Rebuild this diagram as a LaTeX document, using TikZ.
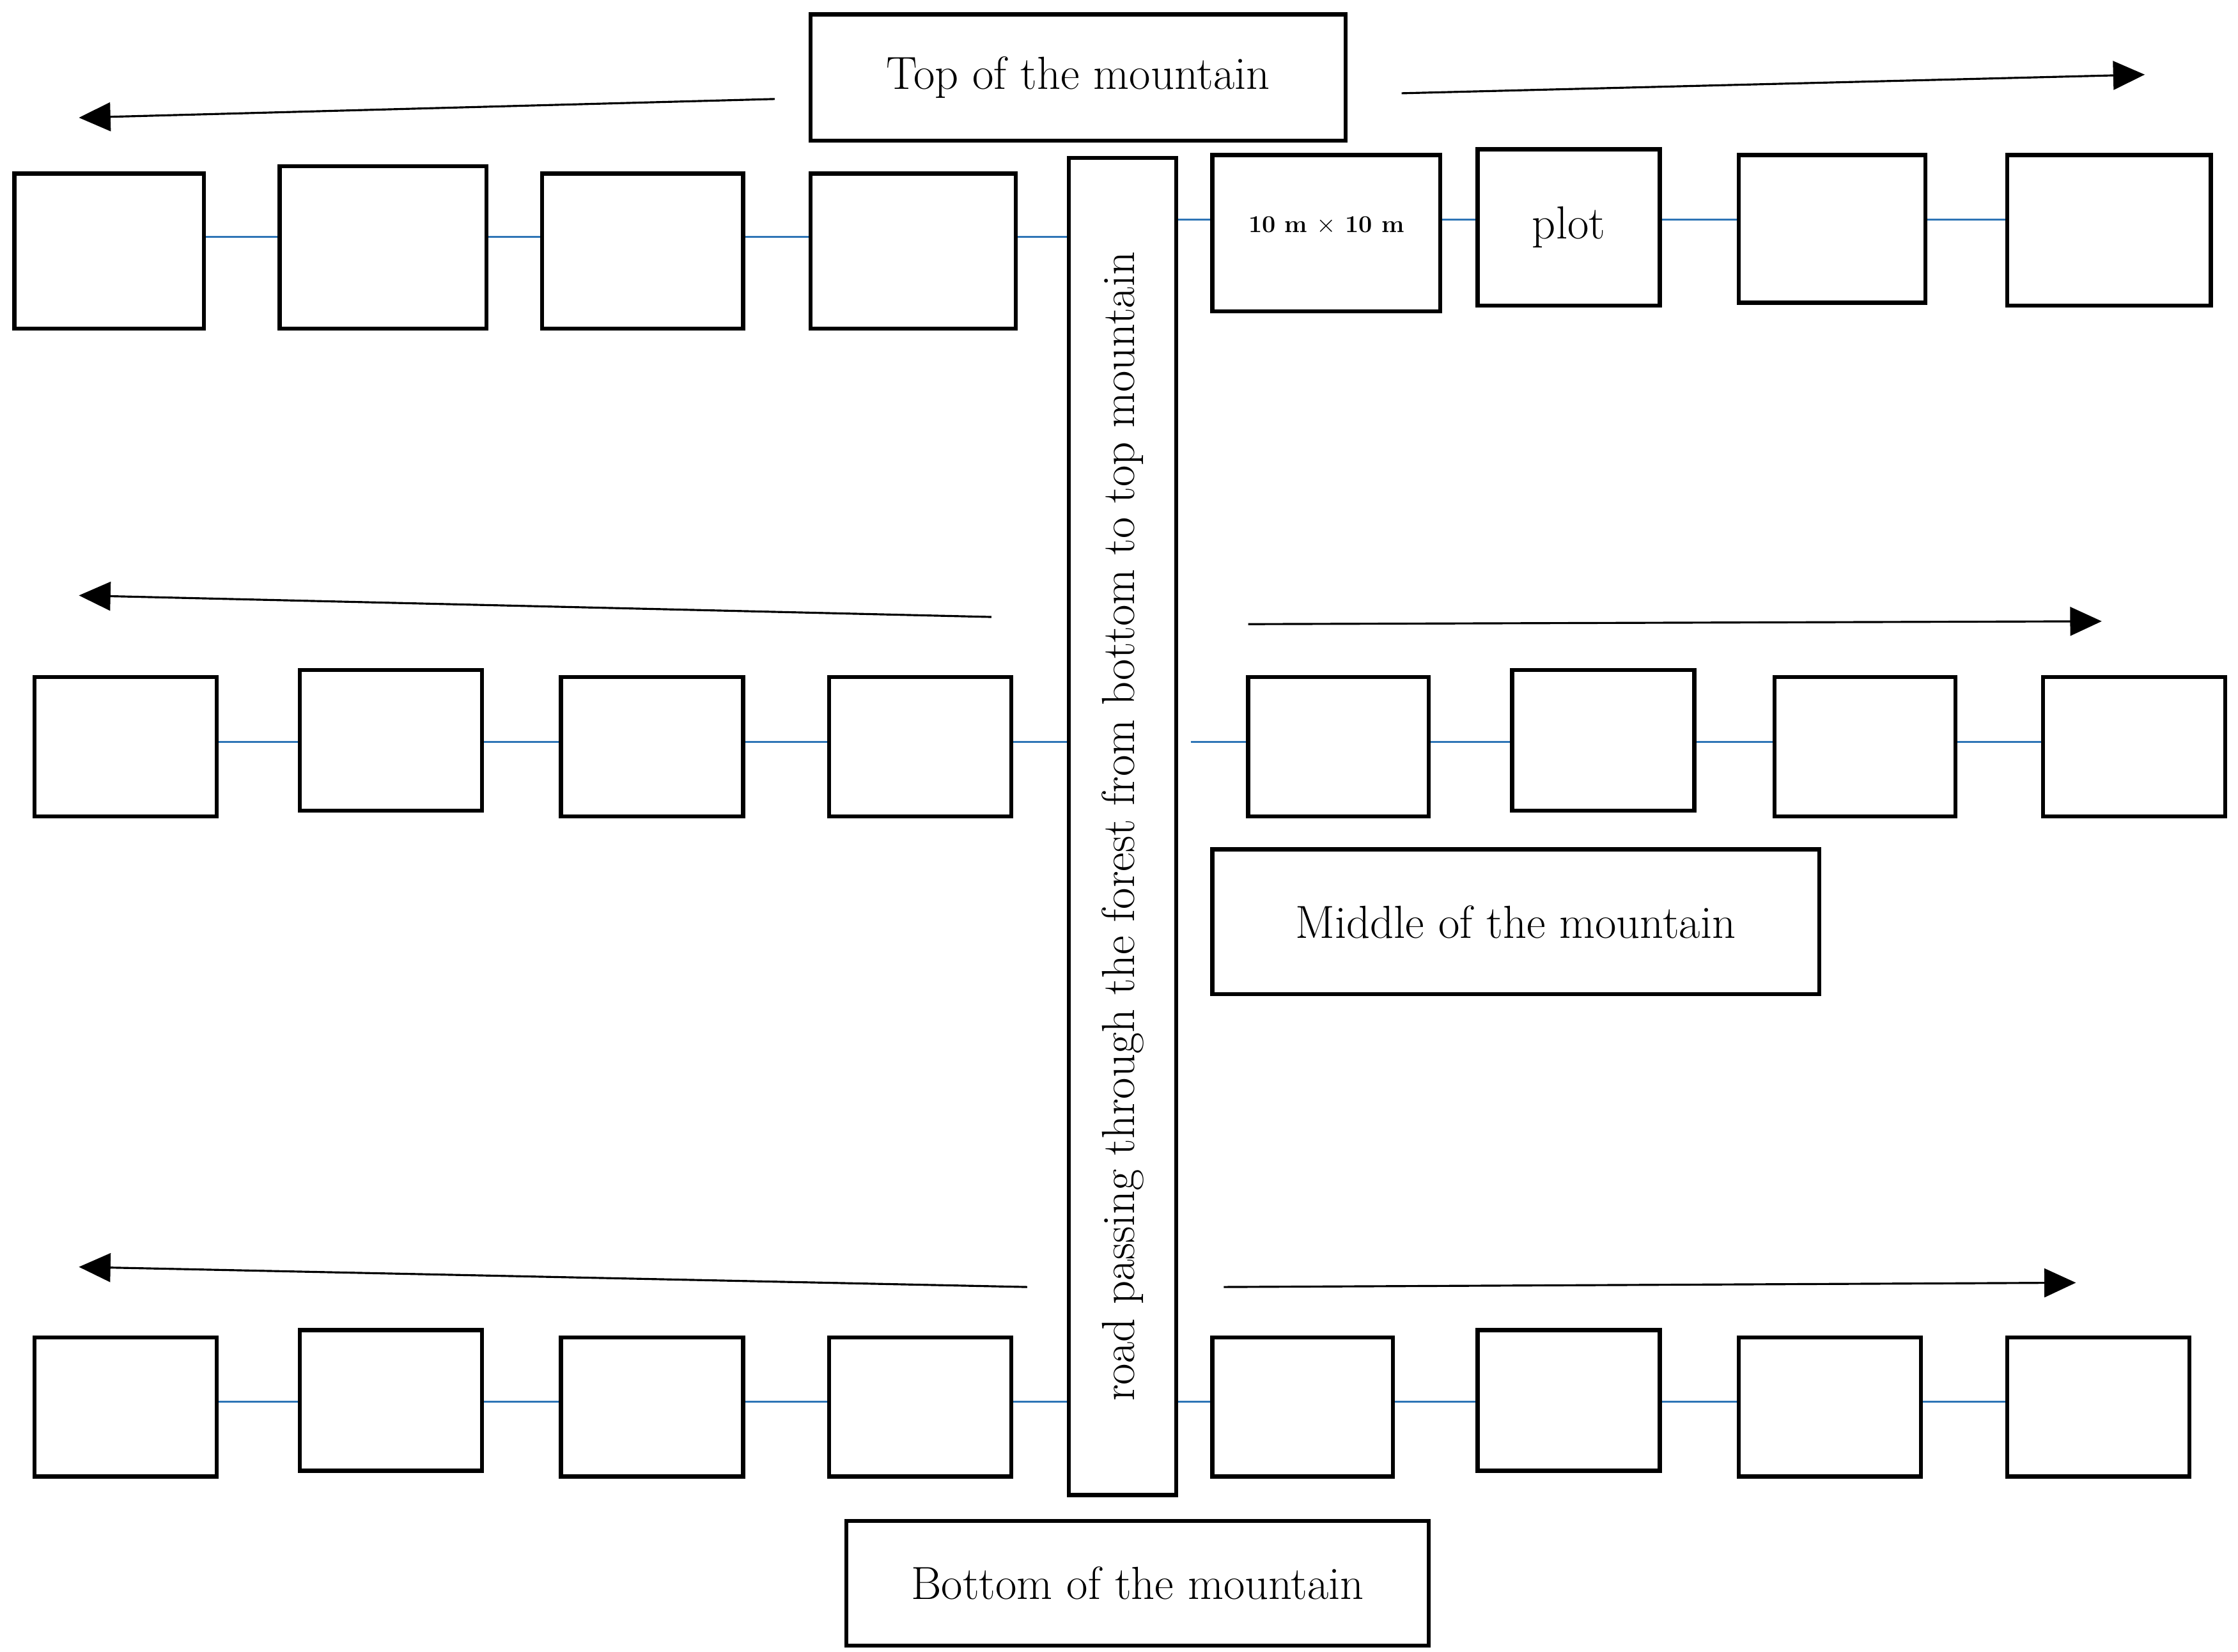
\documentclass[tikz,border=0pt]{standalone}
\usetikzlibrary{arrows.meta}
\definecolor{lnk}{RGB}{46,117,182}
\begin{document}
\begin{tikzpicture}[x=0.05cm,y=-0.05cm,
  bx/.style={draw,line width=4pt,inner sep=0pt,font=\fontsize{46}{54}\selectfont},
  link/.style={draw=lnk,line width=2pt},
  dir/.style={line width=2pt,-{Triangle[length=1.1cm,width=1cm]}}]
\useasboundingbox (0,0) rectangle (1560,1151);
\newcommand\pbox[6]{%
  \pgfmathsetmacro\bw{(#4-#2)*0.05}\pgfmathsetmacro\bh{(#5-#3)*0.05}%
  \node[bx,minimum width=\bw cm,minimum height=\bh cm] (#1) at ({(#2+#4)/2},{(#3+#5)/2}) {#6};}
% titles
\pbox{top}{565}{10}{938}{98}{Top of the mountain}
\pbox{mid}{845}{592}{1268}{693}{Middle of the mountain}
\pbox{bot}{590}{1060}{996}{1147}{Bottom of the mountain}
\pbox{road}{745}{110}{820}{1042}{}
\node[rotate=90,font=\fontsize{46}{54}\selectfont] (roadtxt) at (road.center) {road passing through the forest from bottom to top mountain};
% row 1
\pbox{a1}{10}{121}{142}{229}{}
\pbox{a2}{195}{116}{339}{229}{}
\pbox{a3}{378}{121}{518}{229}{}
\pbox{a4}{565}{121}{708}{229}{}
\pbox{a5}{845}{108}{1004}{217}{\raisebox{0.6cm}{\fontsize{24}{28}\selectfont\bfseries 10 m $\times$ 10 m}}
\pbox{a6}{1030}{104}{1157}{213}{plot}
\pbox{a7}{1212}{108}{1342}{211}{}
\pbox{a8}{1399}{108}{1541}{213}{}
\draw[link] (a1.east|-0,165) -- (a2.west|-0,165) (a2.east|-0,165) -- (a3.west|-0,165)
  (a3.east|-0,165) -- (a4.west|-0,165) (a4.east|-0,165) -- (road.west|-0,165);
\draw[link] (road.east|-0,153) -- (a5.west|-0,153) (a5.east|-0,153) -- (a6.west|-0,153)
  (a6.east|-0,153) -- (a7.west|-0,153) (a7.east|-0,153) -- (a8.west|-0,153);
% row 2
\pbox{b1}{24}{472}{151}{569}{}
\pbox{b2}{209}{467}{336}{565}{}
\pbox{b3}{391}{472}{518}{569}{}
\pbox{b4}{578}{472}{705}{569}{}
\pbox{b5}{870}{472}{996}{569}{}
\pbox{b6}{1054}{467}{1181}{565}{}
\pbox{b7}{1237}{472}{1363}{569}{}
\pbox{b8}{1424}{472}{1551}{569}{}
\coordinate (bs) at (830,517);
\draw[link] (b1.east|-0,517) -- (b2.west|-0,517) (b2.east|-0,517) -- (b3.west|-0,517)
  (b3.east|-0,517) -- (b4.west|-0,517) (b4.east|-0,517) -- (road.west|-0,517)
  (bs) -- (b5.west|-0,517) (b5.east|-0,517) -- (b6.west|-0,517)
  (b6.east|-0,517) -- (b7.west|-0,517) (b7.east|-0,517) -- (b8.west|-0,517);
% row 3
\pbox{c1}{24}{932}{151}{1029}{}
\pbox{c2}{209}{927}{336}{1025}{}
\pbox{c3}{391}{932}{518}{1029}{}
\pbox{c4}{578}{932}{705}{1029}{}
\pbox{c5}{845}{932}{971}{1029}{}
\pbox{c6}{1030}{927}{1157}{1025}{}
\pbox{c7}{1212}{932}{1339}{1029}{}
\pbox{c8}{1399}{932}{1526}{1029}{}
\draw[link] (c1.east|-0,977) -- (c2.west|-0,977) (c2.east|-0,977) -- (c3.west|-0,977)
  (c3.east|-0,977) -- (c4.west|-0,977) (c4.east|-0,977) -- (road.west|-0,977)
  (road.east|-0,977) -- (c5.west|-0,977) (c5.east|-0,977) -- (c6.west|-0,977)
  (c6.east|-0,977) -- (c7.west|-0,977) (c7.east|-0,977) -- (c8.west|-0,977);
% arrows
\coordinate (t1s) at (540,69); \coordinate (t1e) at (55,82);
\coordinate (t2s) at (977,65); \coordinate (t2e) at (1495,52);
\coordinate (m1s) at (691,430); \coordinate (m1e) at (55,415);
\coordinate (m2s) at (870,435); \coordinate (m2e) at (1465,433);
\coordinate (d1s) at (716,897); \coordinate (d1e) at (55,883);
\coordinate (d2s) at (853,897); \coordinate (d2e) at (1447,894);
\draw[dir] (t1s) -- (t1e);
\draw[dir] (t2s) -- (t2e);
\draw[dir] (m1s) -- (m1e);
\draw[dir] (m2s) -- (m2e);
\draw[dir] (d1s) -- (d1e);
\draw[dir] (d2s) -- (d2e);
\end{tikzpicture}
\end{document}
